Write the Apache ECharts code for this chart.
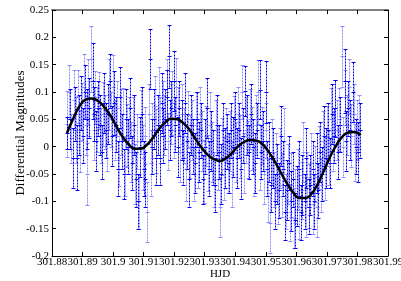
<!DOCTYPE html>
<html><head><meta charset="utf-8">
<script src="https://cdn.jsdelivr.net/npm/echarts@6/dist/echarts.min.js"></script>
<style>html,body{margin:0;padding:0;background:#fff}#c{width:401px;height:281px}</style>
</head><body><div id="c"></div>
<script>
// x tick settings
var xMin = 301.88, xMax = 301.99, xStep = 0.01;
var yMin = -0.2, yMax = 0.25, yStep = 0.05;

// light-blue measurements: [HJD, differential magnitude, error]
var lightPts = [
[301.8850,0.042,0.060],[301.8857,0.100,0.050],[301.8863,0.015,0.045],[301.8871,0.085,0.055],[301.8878,0.030,0.060],
[301.8885,0.092,0.048],[301.8893,0.010,0.057],[301.8899,0.065,0.052],[301.8905,0.110,0.060],[301.8911,0.040,0.055],
[301.8915,-0.050,0.057],[301.8917,0.100,0.060],[301.8922,0.070,0.050],[301.8929,0.160,0.060],[301.8936,0.030,0.055],
[301.8942,0.090,0.048],[301.8948,0.050,0.060],[301.8955,0.085,0.052],[301.8961,0.020,0.050],[301.8968,0.060,0.058],
[301.8974,0.045,0.050],[301.8980,0.010,0.055],[301.8987,0.095,0.065],[301.8993,0.050,0.050],[301.9000,0.110,0.058],
[301.9006,0.030,0.055],[301.9013,0.070,0.050],[301.9019,-0.020,0.052],[301.9026,0.045,0.060],[301.9032,0.060,0.048],
[301.9039,-0.035,0.055],[301.9045,0.020,0.058],[301.9052,0.040,0.050],[301.9058,-0.010,0.055],[301.9065,0.030,0.060],
[301.9071,-0.050,0.055],[301.9078,0.010,0.050],[301.9084,-0.100,0.050],[301.9090,0.045,0.058],[301.9097,-0.020,0.060],
[301.9103,0.020,0.052],[301.9110,-0.120,0.055],[301.9116,0.060,0.055],[301.9123,-0.030,0.060],[301.9129,0.030,0.050],
[301.9136,0.075,0.055],[301.9142,0.010,0.058],[301.9149,0.090,0.055],[301.9155,0.030,0.060],[301.9162,0.070,0.050],
[301.9168,0.040,0.055],[301.9175,0.100,0.060],[301.9181,0.010,0.052],[301.9188,0.060,0.055],[301.9194,0.080,0.058],
[301.9201,0.030,0.050],[301.9207,0.110,0.052],[301.9214,0.050,0.060],[301.9220,-0.010,0.055],[301.9227,0.060,0.055],
[301.9233,0.020,0.050],[301.9240,-0.040,0.060],[301.9246,0.050,0.052],[301.9253,0.000,0.058],[301.9259,0.030,0.055],
[301.9266,-0.050,0.050],[301.9272,0.040,0.060],[301.9279,-0.020,0.055],[301.9285,0.060,0.050],[301.9292,0.010,0.055],
[301.9298,-0.045,0.058],[301.9305,0.020,0.055],[301.9311,-0.030,0.052],[301.9318,0.040,0.060],[301.9324,-0.010,0.055],
[301.9331,-0.060,0.050],[301.9337,0.030,0.055],[301.9344,-0.020,0.060],[301.9350,-0.110,0.055],[301.9357,0.000,0.052],
[301.9363,-0.040,0.058],[301.9370,0.020,0.050],[301.9376,-0.030,0.055],[301.9383,0.010,0.055],[301.9389,-0.050,0.060],
[301.9396,0.040,0.052],[301.9402,-0.010,0.055],[301.9409,0.060,0.050],[301.9415,0.000,0.058],[301.9422,0.100,0.050],
[301.9428,-0.030,0.055],[301.9435,0.030,0.060],[301.9441,-0.005,0.052],[301.9448,0.050,0.055],[301.9454,0.015,0.058],
[301.9461,-0.040,0.050],[301.9467,0.040,0.055],[301.9474,0.100,0.058],[301.9480,-0.020,0.060],[301.9487,0.020,0.052],
[301.9493,-0.050,0.055],[301.9500,0.030,0.050],[301.9506,-0.080,0.058],[301.9513,-0.140,0.055],[301.9519,-0.010,0.060],
[301.9526,-0.060,0.050],[301.9532,-0.030,0.055],[301.9539,-0.090,0.052],[301.9545,-0.020,0.055],[301.9552,-0.070,0.058],
[301.9558,0.010,0.060],[301.9565,-0.100,0.050],[301.9571,-0.050,0.055],[301.9578,-0.120,0.052],[301.9584,-0.070,0.058],
[301.9591,-0.130,0.055],[301.9597,-0.090,0.050],[301.9604,-0.060,0.055],[301.9610,-0.110,0.058],[301.9617,-0.080,0.052],
[301.9623,-0.010,0.055],[301.9630,-0.110,0.055],[301.9636,-0.060,0.050],[301.9643,-0.090,0.058],[301.9649,-0.030,0.055],
[301.9656,-0.105,0.055],[301.9662,-0.050,0.052],[301.9669,-0.110,0.055],[301.9675,-0.020,0.058],[301.9682,-0.070,0.050],
[301.9688,0.010,0.055],[301.9695,-0.040,0.058],[301.9701,0.020,0.055],[301.9708,-0.020,0.050],[301.9714,0.050,0.058],
[301.9721,0.010,0.055],[301.9727,0.070,0.052],[301.9734,0.030,0.055],[301.9740,0.050,0.058],[301.9751,0.165,0.056],
[301.9753,0.000,0.055],[301.9760,0.090,0.050],[301.9766,0.040,0.055],[301.9773,0.110,0.050],[301.9779,0.020,0.058],
[301.9789,0.060,0.055],[301.9792,-0.010,0.052],[301.9799,0.030,0.055],[301.9805,0.045,0.050]
];

// dark-blue measurements: [HJD, differential magnitude, error]
var darkPts = [
[301.8849,0.025,0.030],[301.8860,0.050,0.055],[301.8868,-0.020,0.055],[301.8875,0.060,0.050],[301.8882,-0.020,0.060],
[301.8889,0.040,0.055],[301.8896,0.080,0.050],[301.8902,0.020,0.050],[301.8909,0.100,0.050],[301.8914,0.050,0.055],
[301.8920,0.070,0.055],[301.8933,0.120,0.070],[301.8939,0.060,0.050],[301.8945,0.010,0.055],[301.8952,0.070,0.050],
[301.8958,0.040,0.055],[301.8965,-0.010,0.050],[301.8971,0.080,0.055],[301.8977,0.030,0.050],[301.8984,0.060,0.055],
[301.8990,0.120,0.050],[301.8997,0.020,0.055],[301.9003,0.080,0.058],[301.9010,0.040,0.050],[301.9016,-0.040,0.050],
[301.9023,0.090,0.055],[301.9029,0.010,0.050],[301.9036,-0.050,0.045],[301.9042,0.050,0.055],[301.9049,0.000,0.050],
[301.9055,0.070,0.055],[301.9062,-0.030,0.050],[301.9068,0.040,0.055],[301.9075,-0.060,0.050],[301.9081,-0.100,0.050],
[301.9087,0.000,0.055],[301.9094,0.060,0.050],[301.9100,-0.040,0.050],[301.9106,-0.060,0.050],[301.9120,0.160,0.055],
[301.9126,0.000,0.050],[301.9133,0.050,0.055],[301.9139,-0.020,0.050],[301.9146,0.040,0.055],[301.9152,-0.020,0.050],
[301.9159,0.080,0.055],[301.9165,0.020,0.050],[301.9171,0.050,0.055],[301.9178,0.090,0.050],[301.9182,0.165,0.057],
[301.9185,0.030,0.055],[301.9191,0.070,0.050],[301.9198,0.120,0.055],[301.9204,0.040,0.050],[301.9211,0.000,0.055],
[301.9217,0.070,0.050],[301.9224,0.030,0.055],[301.9230,-0.020,0.050],[301.9237,0.080,0.055],[301.9243,0.010,0.050],
[301.9250,-0.060,0.050],[301.9256,0.040,0.055],[301.9263,0.000,0.050],[301.9269,-0.030,0.055],[301.9276,0.050,0.050],
[301.9282,-0.010,0.055],[301.9289,0.030,0.050],[301.9295,-0.060,0.045],[301.9302,0.000,0.050],[301.9308,0.070,0.055],
[301.9315,-0.040,0.050],[301.9321,0.010,0.055],[301.9328,-0.020,0.050],[301.9334,-0.070,0.050],[301.9341,0.040,0.055],
[301.9347,-0.010,0.050],[301.9354,-0.050,0.055],[301.9360,0.030,0.050],[301.9367,-0.020,0.055],[301.9373,0.010,0.050],
[301.9380,-0.030,0.055],[301.9386,0.030,0.050],[301.9393,0.000,0.055],[301.9399,0.050,0.050],[301.9406,-0.020,0.055],
[301.9412,0.030,0.050],[301.9419,-0.040,0.055],[301.9425,0.020,0.050],[301.9431,0.102,0.046],[301.9438,0.040,0.055],
[301.9444,-0.010,0.050],[301.9451,0.060,0.055],[301.9457,0.000,0.050],[301.9464,-0.030,0.055],[301.9470,0.030,0.050],
[301.9480,0.104,0.054],[301.9484,-0.010,0.050],[301.9490,0.010,0.055],[301.9499,0.100,0.057],[301.9503,-0.040,0.050],
[301.9510,-0.010,0.055],[301.9516,-0.070,0.050],[301.9523,-0.020,0.055],[301.9529,-0.100,0.050],[301.9536,-0.050,0.055],
[301.9542,-0.080,0.050],[301.9549,0.020,0.055],[301.9555,-0.040,0.050],[301.9562,-0.120,0.050],[301.9568,-0.080,0.055],
[301.9575,-0.030,0.050],[301.9581,-0.100,0.055],[301.9588,-0.060,0.050],[301.9594,-0.135,0.050],[301.9601,-0.090,0.055],
[301.9607,-0.040,0.050],[301.9614,-0.120,0.050],[301.9620,-0.070,0.055],[301.9627,-0.100,0.050],[301.9633,-0.020,0.055],
[301.9640,-0.110,0.050],[301.9646,-0.070,0.055],[301.9653,-0.040,0.050],[301.9659,-0.100,0.050],[301.9666,-0.030,0.055],
[301.9672,-0.080,0.050],[301.9679,-0.010,0.055],[301.9685,-0.050,0.050],[301.9692,0.020,0.055],[301.9698,-0.020,0.055],
[301.9705,0.030,0.050],[301.9711,-0.030,0.045],[301.9718,0.060,0.055],[301.9724,0.020,0.050],[301.9728,0.070,0.052],
[301.9737,-0.010,0.050],[301.9744,0.040,0.050],[301.9758,0.120,0.058],[301.9763,0.010,0.055],[301.9770,0.070,0.050],
[301.9776,0.030,0.055],[301.9786,0.100,0.055],[301.9795,0.000,0.050],[301.9802,-0.010,0.055],[301.9808,0.030,0.050]
];

// fitted curve
var fitHjd = [301.8849,301.887,301.889,301.891,301.893,301.895,301.897,301.899,301.901,301.903,301.905,301.907,301.909,
301.911,301.913,301.915,301.917,301.919,301.921,301.923,301.925,301.927,301.929,301.931,301.933,301.935,301.937,301.939,
301.941,301.943,301.945,301.947,301.949,301.951,301.953,301.955,301.957,301.959,301.961,301.963,301.965,301.967,301.969,
301.971,301.973,301.975,301.977,301.979,301.981];
var fitMag = [0.025,0.052,0.074,0.086,0.088,0.084,0.073,0.058,0.038,0.019,0.005,-0.004,-0.004,
0.003,0.016,0.032,0.044,0.051,0.050,0.043,0.031,0.014,-0.002,-0.015,-0.023,-0.026,-0.021,-0.011,
0.001,0.009,0.012,0.011,0.004,-0.010,-0.028,-0.048,-0.068,-0.084,-0.094,-0.094,-0.086,-0.068,-0.044,
-0.019,0.002,0.018,0.026,0.027,0.021];

function errRender(color) {
  return function (params, api) {
    var x = api.value(0), y = api.value(1), e = api.value(2);
    var c = api.coord([x, y]);
    var hi = api.coord([x, y + e]);
    var lo = api.coord([x, y - e]);
    var cx = Math.round(c[0]) + 0.5;
    var w = 2;
    var yh = Math.round(hi[1]) + 0.5, yl = Math.round(lo[1]) + 0.5, yc = Math.round(c[1]) + 0.5;
    return { type: 'group', children: [
      { type: 'line', shape: { x1: cx, y1: yh, x2: cx, y2: yl }, style: { stroke: color, lineWidth: 1, lineDash: [2, 1] } },
      { type: 'line', shape: { x1: cx - w, y1: yh, x2: cx + w, y2: yh }, style: { stroke: color, lineWidth: 1 } },
      { type: 'line', shape: { x1: cx - w, y1: yl, x2: cx + w, y2: yl }, style: { stroke: color, lineWidth: 1 } },
      { type: 'line', shape: { x1: cx - w, y1: yc, x2: cx + w, y2: yc }, style: { stroke: color, lineWidth: 1 } }
    ]};
  };
}

var fitData = fitHjd.map(function (h, i) { return [h, fitMag[i]]; });
var font = '"Liberation Serif", "DejaVu Serif", serif';
var chart = echarts.init(document.getElementById('c'), null, { renderer: 'canvas' });
chart.setOption({
  animation: false,
  backgroundColor: '#fff',
  grid: { left: 52, right: 13, top: 10, bottom: 25, containLabel: false, outerBoundsMode: 'none' },
  xAxis: [{
    type: 'value', min: xMin, max: xMax, interval: xStep, position: 'bottom',
    name: 'HJD', nameLocation: 'middle', nameGap: 13, nameMoveOverlap: false,
    nameTextStyle: { fontFamily: font, fontSize: 11, color: '#000' },
    axisLine: { show: true, onZero: false, lineStyle: { color: '#000', width: 1 } },
    axisTick: { show: true, inside: true, length: 4, lineStyle: { color: '#000' } },
    axisLabel: { interval: 0, margin: 1, fontFamily: font, fontSize: 11, color: '#000',
      formatter: function (v) { return String(+v.toFixed(2)); } },
    splitLine: { show: false }
  }, {
    type: 'value', min: xMin, max: xMax, interval: xStep, position: 'top',
    axisLine: { show: true, onZero: false, lineStyle: { color: '#808080', width: 2 } },
    axisTick: { show: true, inside: true, length: 4, lineStyle: { color: '#000' } },
    axisLabel: { show: false }, splitLine: { show: false }
  }],
  yAxis: [{
    type: 'value', min: yMin, max: yMax, interval: yStep, position: 'left',
    name: 'Differential Magnitudes', nameLocation: 'middle', nameGap: 25, nameRotate: 90, nameMoveOverlap: false,
    nameTextStyle: { fontFamily: font, fontSize: 13, color: '#000' },
    axisLine: { show: true, onZero: false, lineStyle: { color: '#000', width: 1 } },
    axisTick: { show: true, inside: true, length: 4, lineStyle: { color: '#000' } },
    axisLabel: { margin: 3, fontFamily: font, fontSize: 11, color: '#000',
      formatter: function (v) { return String(+v.toFixed(2)); } },
    splitLine: { show: false }
  }, {
    type: 'value', min: yMin, max: yMax, interval: yStep, position: 'right',
    axisLine: { show: true, onZero: false, lineStyle: { color: '#000', width: 1 } },
    axisTick: { show: true, inside: true, length: 4, lineStyle: { color: '#000' } },
    axisLabel: { show: false }, splitLine: { show: false }
  }],
  series: [
    { type: 'custom', name: 'light', xAxisIndex: 0, yAxisIndex: 0, data: lightPts,
      encode: { x: 0, y: 1 }, renderItem: errRender('#8c8cff'), z: 2, clip: true },
    { type: 'custom', name: 'dark', xAxisIndex: 0, yAxisIndex: 0, data: darkPts,
      encode: { x: 0, y: 1 }, renderItem: errRender('#0000f0'), z: 3, clip: true },
    { type: 'line', name: 'fit', data: fitData, smooth: 0.5, showSymbol: false, symbol: 'none',
      lineStyle: { color: '#000', width: 2.5 }, z: 5 }
  ]
});
</script></body></html>
